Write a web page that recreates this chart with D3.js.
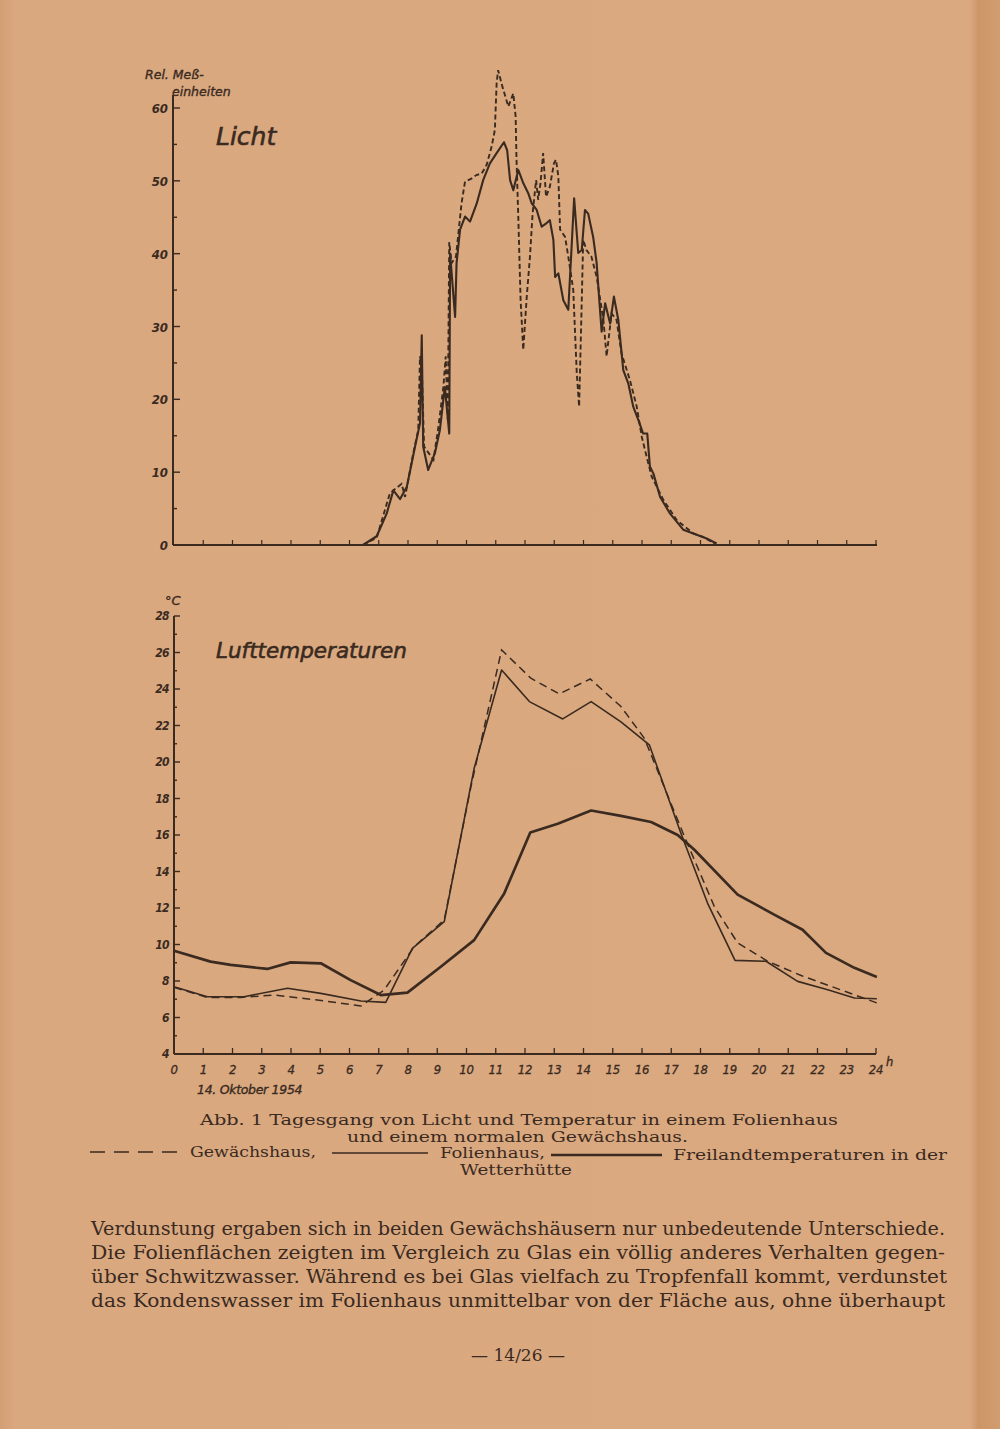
<!DOCTYPE html>
<html>
<head>
<meta charset="utf-8">
<script src="https://cdn.jsdelivr.net/npm/d3@7"></script>
<style>
  html, body { margin: 0; padding: 0; background: #d9a87e; }
  svg { display: block; }
</style>
</head>
<body>
<div id="page"></div>
<script>
// ---- data ----
// Licht (rel. Messeinheiten), hours of day
var lichtFolieT = [6.46, 6.93, 7.27, 7.50, 7.73, 7.96, 8.24, 8.41, 8.47, 8.52, 8.69, 8.92, 9.09, 9.26, 9.41, 9.44, 9.61, 9.66, 9.78, 9.95,
  10.12, 10.35, 10.57, 10.80, 11.03, 11.28, 11.39, 11.49, 11.60, 11.77, 11.94, 12.11, 12.23, 12.40, 12.57, 12.74, 12.85, 12.97, 13.03, 13.14,
  13.31, 13.48, 13.68, 13.82, 13.94, 14.05, 14.16, 14.33, 14.45, 14.54, 14.62, 14.74, 14.91, 15.04, 15.19, 15.36, 15.53, 15.70, 15.87, 16.04,
  16.18, 16.27, 16.39, 16.62, 16.96, 17.41, 17.87, 18.21, 18.55];
var lichtFolieV = [0, 1.2, 4.3, 7.5, 6.3, 8.0, 13.5, 16.7, 28.8, 13.5, 10.3, 12.6, 15.8, 21.7, 15.3, 40.0, 31.3, 38.7, 43.3, 45.1,
  44.4, 46.9, 50.1, 52.4, 53.8, 55.3, 54.2, 50.1, 48.7, 51.5, 49.7, 48.3, 46.9, 46.0, 43.7, 44.2, 44.6, 41.9, 36.8, 37.3,
  33.6, 32.3, 47.6, 40.1, 40.5, 46.0, 45.5, 42.3, 38.7, 33.6, 29.3, 33.2, 30.4, 34.1, 30.9, 24.0, 22.2, 19.0, 17.2, 15.3,
  15.3, 10.8, 9.8, 6.6, 4.3, 2.1, 1.4, 0.9, 0.2];

var lichtGlasT = [6.46, 6.93, 7.38, 7.78, 7.90, 8.18, 8.35, 8.41, 8.47, 8.55, 8.87, 9.04, 9.21, 9.29, 9.36, 9.41, 9.49, 9.64, 9.83, 9.95,
  10.17, 10.34, 10.52, 10.69, 10.86, 10.97, 11.03, 11.08, 11.23, 11.43, 11.60, 11.68, 11.71, 11.77, 11.85, 11.94, 12.06, 12.17, 12.26, 12.38,
  12.45, 12.53, 12.62, 12.72, 12.85, 12.99, 13.06, 13.14, 13.20, 13.37, 13.48, 13.65, 13.77, 13.85, 13.93, 13.99, 14.10, 14.27, 14.45, 14.68,
  14.79, 14.96, 15.13, 15.30, 15.59, 15.82, 15.99, 16.16, 16.33, 16.73, 17.19, 17.75, 18.09, 18.49];
var lichtGlasV = [0, 1.0, 7.1, 8.4, 6.6, 12.6, 15.8, 25.9, 24.5, 13.5, 11.7, 16.2, 21.7, 25.9, 17.2, 41.6, 38.7, 39.6, 46.9, 49.9,
  50.3, 50.8, 51.0, 52.2, 54.7, 57.0, 63.4, 65.2, 62.9, 60.2, 62.0, 58.8, 52.9, 45.1, 33.6, 26.8, 34.1, 39.6, 45.5, 50.1,
  47.4, 49.7, 53.8, 47.8, 49.2, 52.4, 52.9, 50.6, 43.3, 42.3, 39.6, 35.0, 23.6, 19.0, 31.8, 41.9, 40.5, 39.6, 36.8, 30.9,
  25.9, 31.8, 30.9, 26.3, 22.6, 19.0, 14.9, 12.1, 9.4, 6.2, 3.4, 1.6, 1.1, 0.2];

// Lufttemperaturen (°C)
var freiT = [0, 1.25, 1.94, 3.19, 3.99, 5.02, 6.04, 7.07, 7.98, 9.12, 10.26, 11.29, 12.18, 13.12, 14.26, 15.28, 16.31, 17.22, 17.79, 19.27, 20.52, 21.49, 22.29, 23.26, 24.03];
var freiV = [9.66, 9.06, 8.88, 8.66, 9.02, 8.97, 8.05, 7.23, 7.36, 8.78, 10.24, 12.8, 16.14, 16.62, 17.34, 17.05, 16.71, 16.0, 15.19, 12.73, 11.64, 10.81, 9.54, 8.72, 8.22];

var folieT = [0, 1.14, 2.39, 3.88, 5.02, 6.39, 7.24, 8.15, 9.24, 10.26, 11.2, 12.15, 13.29, 14.26, 15.28, 16.25, 17.33, 18.24, 19.18, 20.24, 21.32, 22.35, 23.26, 24.03];
var folieV = [7.69, 7.14, 7.14, 7.6, 7.32, 6.9, 6.83, 9.79, 11.25, 19.64, 25.04, 23.31, 22.36, 23.31, 22.2, 20.94, 16.1, 12.27, 9.13, 9.08, 7.98, 7.52, 7.07, 7.03];

var glasT = [0, 1.14, 2.28, 3.42, 4.9, 6.39, 7.18, 8.21, 9.24, 10.15, 11.2, 12.2, 13.17, 14.23, 15.28, 16.08, 17.45, 18.47, 19.27, 20.3, 21.44, 22.46, 24.03];
var glasV = [7.65, 7.1, 7.1, 7.23, 6.96, 6.63, 7.5, 9.88, 11.35, 18.64, 26.14, 24.59, 23.73, 24.55, 23.04, 21.3, 15.92, 12.09, 10.09, 9.08, 8.3, 7.71, 6.8];

var hourTicks = d3.range(0, 25);
var lichtTicks = [0, 10, 20, 30, 40, 50, 60];
var tempTicks = [4, 6, 8, 10, 12, 14, 16, 18, 20, 22, 24, 26, 28];

var captionLines = [
  "Abb. 1 Tagesgang von Licht und Temperatur in einem Folienhaus",
  "und einem normalen Gewächshaus."
];
var bodyLines = [
  "Verdunstung ergaben sich in beiden Gewächshäusern nur unbedeutende Unterschiede.",
  "Die Folienflächen zeigten im Vergleich zu Glas ein völlig anderes Verhalten gegen-",
  "über Schwitzwasser. Während es bei Glas vielfach zu Tropfenfall kommt, verdunstet",
  "das Kondenswasser im Folienhaus unmittelbar von der Fläche aus, ohne überhaupt"
];

// ---- page ----
var W = 1000, H = 1429;
var INK = "#3a2a1f";
var SANS = "'DejaVu Sans', sans-serif";
var SANSC = "'DejaVu Sans Condensed', 'DejaVu Sans', sans-serif";
var SERIF = "'DejaVu Serif', serif";

var svg = d3.select("#page").append("svg")
  .attr("width", W)
  .attr("height", H);

var defs = svg.append("defs");
var grad = defs.append("linearGradient").attr("id", "paper")
  .attr("x1", 0).attr("x2", 1).attr("y1", 0).attr("y2", 0);
grad.append("stop").attr("offset", "0").attr("stop-color", "#d29f74");
grad.append("stop").attr("offset", "0.015").attr("stop-color", "#d9a87f");
grad.append("stop").attr("offset", "0.97").attr("stop-color", "#daa980");
grad.append("stop").attr("offset", "0.978").attr("stop-color", "#cd9669");
grad.append("stop").attr("offset", "1").attr("stop-color", "#d19c6e");

svg.append("rect")
  .attr("width", W)
  .attr("height", H)
  .attr("fill", "url(#paper)");

var x = d3.scaleLinear().domain([0, 24]).range([174, 876]);

function label(g, tx, ty, size, str) {
  return g.append("text").attr("x", tx).attr("y", ty)
    .style("font-family", SANS).style("font-style", "italic")
    .style("font-size", size + "px")
    .attr("fill", INK).attr("stroke", INK).attr("stroke-width", 0.35)
    .text(str);
}

// ---- Licht ----
var yL = d3.scaleLinear().domain([0, 60]).range([545, 108]);
var gL = svg.append("g");

gL.append("line")
  .attr("x1", 173).attr("x2", 173)
  .attr("y1", 95).attr("y2", yL(0))
  .attr("stroke", INK).attr("stroke-width", 2);
gL.append("line")
  .attr("x1", 173).attr("x2", x(24) + 1)
  .attr("y1", yL(0)).attr("y2", yL(0))
  .attr("stroke", INK).attr("stroke-width", 2);

gL.selectAll(".ytick").data(d3.range(5, 61, 5)).enter().append("line")
  .attr("x1", 173)
  .attr("x2", d => d % 10 === 0 ? 180 : 177)
  .attr("y1", d => yL(d)).attr("y2", d => yL(d))
  .attr("stroke", INK).attr("stroke-width", 1.4);

gL.selectAll(".xtick").data(hourTicks.slice(1)).enter().append("line")
  .attr("x1", d => x(d)).attr("x2", d => x(d))
  .attr("y1", yL(0)).attr("y2", yL(0) - 5)
  .attr("stroke", INK).attr("stroke-width", 1.2);

gL.selectAll(".ylab").data(lichtTicks).enter().append("text")
  .attr("x", 168)
  .attr("y", d => yL(d) + 5)
  .attr("text-anchor", "end")
  .style("font-family", SANSC).style("font-style", "italic")
  .style("font-size", "13px").style("font-weight", "bold")
  .attr("fill", INK)
  .text(d => d);

label(gL, 145, 79, 12.5, "Rel. Meß-");
label(gL, 172, 96, 12.5, "einheiten");
label(gL, 216, 145, 25, "Licht").attr("stroke-width", 0.6);

var lineL = d3.line()
  .x(d => x(d[0]))
  .y(d => yL(d[1]));

gL.append("path")
  .datum(d3.zip(lichtGlasT, lichtGlasV))
  .attr("d", lineL)
  .attr("fill", "none").attr("stroke", INK)
  .attr("stroke-width", 1.9).attr("stroke-dasharray", "5,3");

gL.append("path")
  .datum(d3.zip(lichtFolieT, lichtFolieV))
  .attr("d", lineL)
  .attr("fill", "none").attr("stroke", INK)
  .attr("stroke-width", 2.1).attr("stroke-linejoin", "round");

// ---- Lufttemperaturen ----
var yT = d3.scaleLinear().domain([4, 28]).range([1054, 616]);
var gT = svg.append("g");

gT.append("line")
  .attr("x1", 174).attr("x2", 174)
  .attr("y1", yT(28)).attr("y2", yT(4))
  .attr("stroke", INK).attr("stroke-width", 2);
gT.append("line")
  .attr("x1", 174).attr("x2", x(24))
  .attr("y1", yT(4)).attr("y2", yT(4))
  .attr("stroke", INK).attr("stroke-width", 2);

gT.selectAll(".ytick").data(d3.range(5, 29, 1)).enter().append("line")
  .attr("x1", 174)
  .attr("x2", d => d % 2 === 0 ? 180 : 177)
  .attr("y1", d => yT(d)).attr("y2", d => yT(d))
  .attr("stroke", INK).attr("stroke-width", 1.4);

gT.selectAll(".xtick").data(hourTicks.slice(1)).enter().append("line")
  .attr("x1", d => x(d)).attr("x2", d => x(d))
  .attr("y1", yT(4)).attr("y2", yT(4) - 6)
  .attr("stroke", INK).attr("stroke-width", 1.3);

gT.selectAll(".ylab").data(tempTicks).enter().append("text")
  .attr("x", 169)
  .attr("y", d => yT(d) + 4)
  .attr("text-anchor", "end")
  .style("font-family", SANSC).style("font-style", "italic")
  .style("font-size", "12px").style("font-weight", "bold")
  .style("letter-spacing", "-0.6px")
  .attr("fill", INK)
  .text(d => d);

gT.selectAll(".xlab").data(hourTicks).enter().append("text")
  .attr("x", d => x(d))
  .attr("y", 1074)
  .attr("text-anchor", "middle")
  .style("font-family", SANSC).style("font-style", "italic")
  .style("font-size", "13px")
  .style("letter-spacing", "-0.3px")
  .attr("fill", INK).attr("stroke", INK).attr("stroke-width", 0.3)
  .text(d => d);

label(gT, 886, 1066, 11.5, "h");
label(gT, 165, 605, 13, "°C");
label(gT, 197, 1094, 12.5, "14. Oktober 1954").style("letter-spacing", "-0.3px");
label(gT, 216, 658, 21.5, "Lufttemperaturen").attr("stroke-width", 0.6);

var lineT = d3.line()
  .x(d => x(d[0]))
  .y(d => yT(d[1]));

gT.append("path")
  .datum(d3.zip(freiT, freiV))
  .attr("d", lineT)
  .attr("fill", "none").attr("stroke", INK)
  .attr("stroke-width", 2.7).attr("stroke-linejoin", "round");

gT.append("path")
  .datum(d3.zip(folieT, folieV))
  .attr("d", lineT)
  .attr("fill", "none").attr("stroke", INK)
  .attr("stroke-width", 1.6).attr("stroke-linejoin", "round");

gT.append("path")
  .datum(d3.zip(glasT, glasV))
  .attr("d", lineT)
  .attr("fill", "none").attr("stroke", INK)
  .attr("stroke-width", 1.5).attr("stroke-dasharray", "8,5");

// ---- caption ----
var cap = svg.append("g")
  .style("font-family", SERIF).style("font-size", "15.5px").attr("fill", INK);

cap.append("text").attr("x", 200).attr("y", 1125)
  .attr("textLength", 638).attr("lengthAdjust", "spacingAndGlyphs")
  .text(captionLines[0]);
cap.append("text").attr("x", 347).attr("y", 1142)
  .attr("textLength", 341).attr("lengthAdjust", "spacingAndGlyphs")
  .text(captionLines[1]);

// legend samples
cap.append("line").attr("x1", 90).attr("x2", 180).attr("y1", 1152).attr("y2", 1152)
  .attr("stroke", INK).attr("stroke-width", 1.3).attr("stroke-dasharray", "15,9");
cap.append("text").attr("x", 190).attr("y", 1157)
  .attr("textLength", 126).attr("lengthAdjust", "spacingAndGlyphs")
  .text("Gewächshaus,");
cap.append("line").attr("x1", 332).attr("x2", 428).attr("y1", 1153).attr("y2", 1153)
  .attr("stroke", INK).attr("stroke-width", 1.3);
cap.append("text").attr("x", 440).attr("y", 1158)
  .attr("textLength", 105).attr("lengthAdjust", "spacingAndGlyphs")
  .text("Folienhaus,");
cap.append("line").attr("x1", 551).attr("x2", 662).attr("y1", 1155).attr("y2", 1155)
  .attr("stroke", INK).attr("stroke-width", 2.6);
cap.append("text").attr("x", 673).attr("y", 1160)
  .attr("textLength", 274).attr("lengthAdjust", "spacingAndGlyphs")
  .text("Freilandtemperaturen in der");
cap.append("text").attr("x", 460).attr("y", 1175)
  .attr("textLength", 112).attr("lengthAdjust", "spacingAndGlyphs")
  .text("Wetterhütte");

// ---- body text ----
var body = svg.append("g")
  .style("font-family", SERIF).style("font-size", "18px").attr("fill", INK);

body.selectAll("text").data(bodyLines).enter().append("text")
  .attr("x", 91)
  .attr("y", (d, i) => 1235 + i * 24)
  .attr("textLength", (d, i) => i === 2 ? 856 : 854)
  .attr("lengthAdjust", "spacingAndGlyphs")
  .text(d => d);

svg.append("text").attr("x", 518).attr("y", 1361)
  .attr("text-anchor", "middle")
  .style("font-family", SERIF).style("font-size", "17px").attr("fill", INK)
  .text("— 14/26 —");
</script>
</body>
</html>
